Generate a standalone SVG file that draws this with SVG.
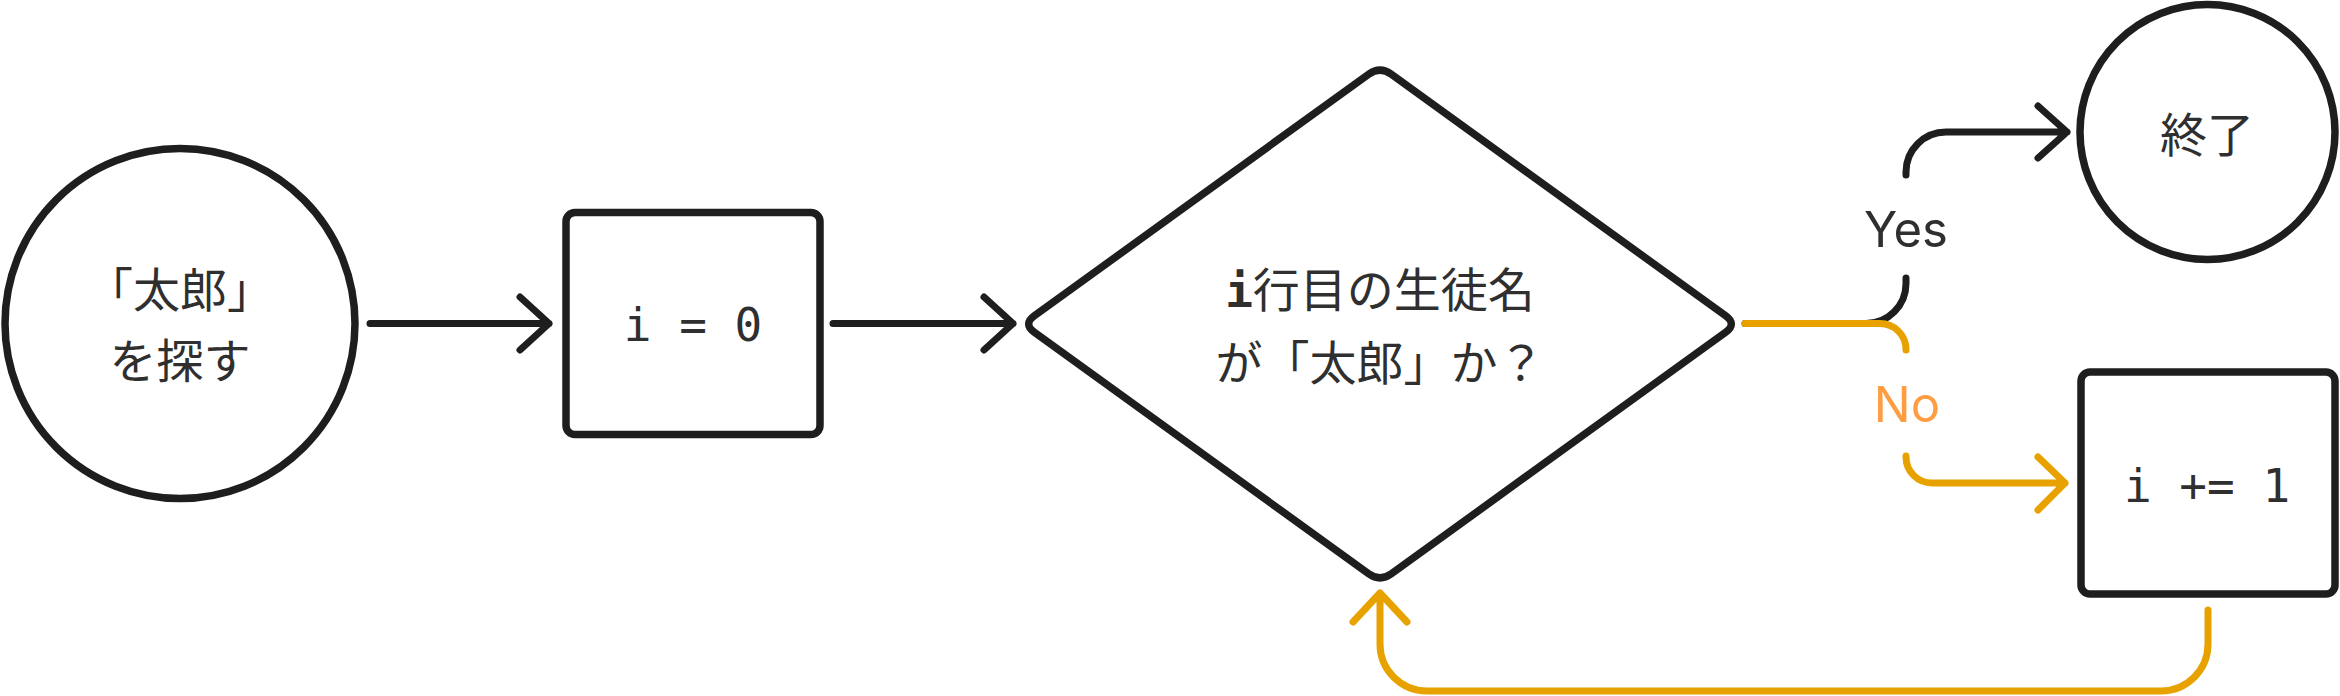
<svg xmlns="http://www.w3.org/2000/svg" width="2340" height="696" viewBox="0 0 2340 696">
<style>
.node{fill:#ffffff;stroke:#1e1e1e;stroke-width:7.5;stroke-linejoin:round}
.jp{font-family:"Noto Sans CJK JP","Noto Sans",sans-serif;font-size:47px;fill:#2f2f2f;text-anchor:middle}
.mono{font-family:"DejaVu Sans Mono","Liberation Mono",monospace;font-size:46px;fill:#2f2f2f}
.lbl{font-family:Inter,"Liberation Sans",sans-serif;font-size:49px;text-anchor:middle}
.c{fill:none;stroke-width:7;stroke-linecap:round;stroke-linejoin:round}
.k{stroke:#1e1e1e}
.o{stroke:#e8a200}
</style>
<rect width="2340" height="696" fill="#ffffff"/>
<g id="connectors">
<path class="c k" d="M370 323.5H549M520 297L549 323.5L520 350"/>
<path class="c k" d="M833 323.5H1013M984 297L1013 323.5L984 350"/>
<path class="c k" d="M1745 323.5H1866A40 40 0 0 0 1906 283.5V278"/>
<path class="c k" d="M1906 175V172A40 40 0 0 1 1946 132H2067M2038 106L2067 132L2038 158"/>
<path class="c o" d="M1745 323.5H1880A26 26 0 0 1 1906 349.5V350"/>
<path class="c o" d="M1906 456V457A26 26 0 0 0 1932 483H2065M2038 457L2065 483L2038 510"/>
<path class="c o" d="M2208 610V644A47 47 0 0 1 2161 691H1427A47 47 0 0 1 1380 644V593M1353 622L1380 593L1407 622"/>
<text class="lbl" x="1906" y="247" fill="#2f2f2f">Yes</text>
<text class="lbl" x="1907" y="422" fill="#ff9d42">No</text>
</g>
<g id="start">
<circle class="node" cx="180" cy="323.5" r="175"/>
<text class="jp" x="180" y="307">「太郎」</text>
<text class="jp" x="180" y="378">を探す</text>
</g>
<g id="init">
<rect class="node" x="566" y="212.5" width="254" height="222" rx="9"/>
<text class="mono" x="693" y="341" text-anchor="middle" xml:space="preserve">i = 0</text>
</g>
<g id="decision">
<path class="node" d="M1368.65 74.2Q1380 66 1391.35 74.2L1725.65 315.8Q1737 324 1725.65 332.2L1391.35 573.8Q1380 582 1368.65 573.8L1034.35 332.2Q1023 324 1034.35 315.8Z"/>
<text class="jp" x="1380" y="307"><tspan class="mono" font-weight="bold">i</tspan>行目の生徒名</text>
<text class="jp" x="1380" y="380">が「太郎」か？</text>
</g>
<g id="end">
<circle class="node" cx="2207.5" cy="132" r="127.5"/>
<text class="jp" x="2207" y="152">終了</text>
</g>
<g id="increment">
<rect class="node" x="2081" y="372" width="254" height="222" rx="9"/>
<text class="mono" x="2207" y="502" text-anchor="middle" xml:space="preserve">i += 1</text>
</g>
</svg>
